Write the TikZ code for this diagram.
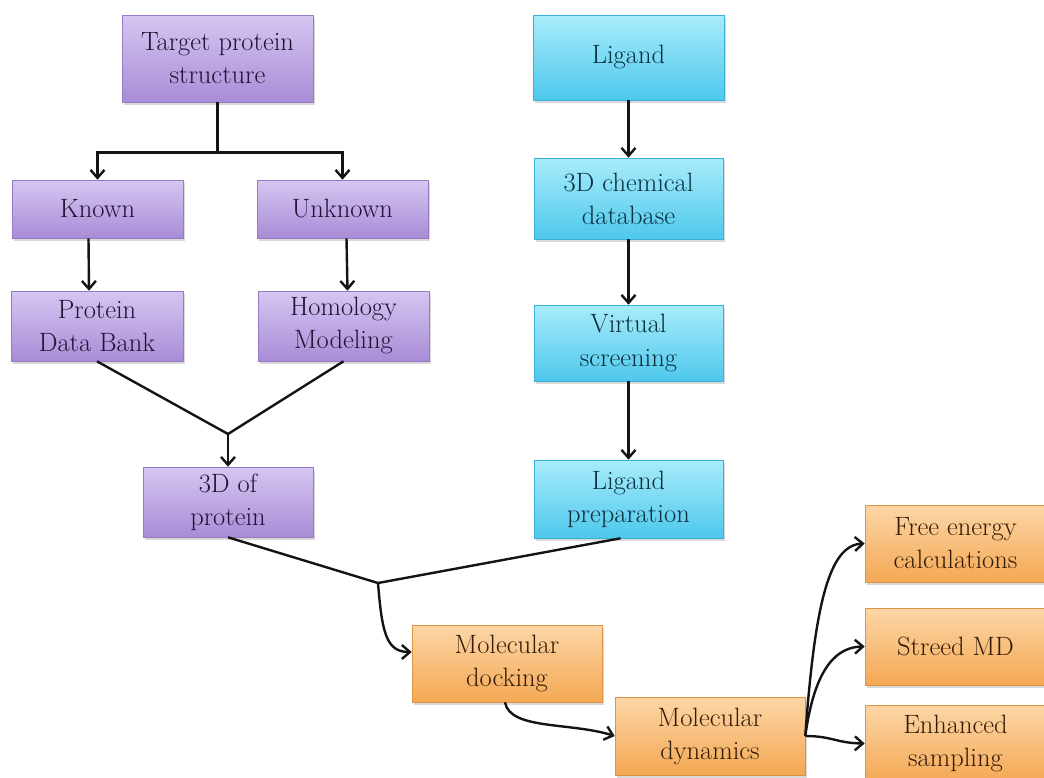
\documentclass[tikz,border=0pt]{standalone}
\usepackage{fontspec}
\usetikzlibrary{arrows.meta,shadows,calc}

\definecolor{pTop}{RGB}{214,198,242}
\definecolor{pBot}{RGB}{168,140,214}
\definecolor{pEdge}{RGB}{150,122,196}
\definecolor{pText}{RGB}{34,18,52}
\definecolor{cTop}{RGB}{168,236,251}
\definecolor{cBot}{RGB}{78,200,236}
\definecolor{cEdge}{RGB}{60,176,214}
\definecolor{cText}{RGB}{10,46,62}
\definecolor{oTop}{RGB}{252,214,166}
\definecolor{oBot}{RGB}{244,168,84}
\definecolor{oEdge}{RGB}{222,148,66}
\definecolor{oText}{RGB}{52,28,8}
\definecolor{lineC}{RGB}{20,20,20}

\begin{document}
\begin{tikzpicture}[x=1pt,y=-1pt,
  base/.style={rectangle, inner sep=0pt, align=center,
    font=\fontsize{26.5}{33}\selectfont\addfontfeature{FakeBold=0.9}, line width=0.6pt,
    drop shadow={shadow xshift=2pt,shadow yshift=-2.5pt,opacity=0.3}},
  purplebox/.style={base, top color=pTop, bottom color=pBot, draw=pEdge, text=pText},
  cyanbox/.style={base, top color=cTop, bottom color=cBot, draw=cEdge, text=cText},
  orangebox/.style={base, top color=oTop, bottom color=oBot, draw=oEdge, text=oText},
  link/.style={line width=2.4pt, draw=lineC},
  arr/.style={link, -{Straight Barb[length=8pt,width=14pt]}},
]
\useasboundingbox (0,0) rectangle (1044,777);

% protein branch
\node[purplebox, minimum width=191pt, minimum height=87pt] (tps) at (217.5,58.5) {Target protein\\structure};
\node[purplebox, minimum width=171pt, minimum height=58pt] (known) at (97.5,209) {Known};
\node[purplebox, minimum width=171pt, minimum height=58pt] (unknown) at (342.5,209) {Unknown};
\node[purplebox, minimum width=172pt, minimum height=70pt] (pdb) at (97,326) {Protein\\Data Bank};
\node[purplebox, minimum width=171pt, minimum height=70pt] (hm) at (343.5,326) {Homology\\Modeling};
\node[purplebox, minimum width=170pt, minimum height=70pt] (p3d) at (228,502) {3D of\\protein};

% ligand branch
\node[cyanbox, minimum width=191pt, minimum height=85pt] (lig) at (628.5,57.5) {Ligand};
\node[cyanbox, minimum width=189pt, minimum height=81pt] (chem) at (628.5,198.5) {3D chemical\\database};
\node[cyanbox, minimum width=189pt, minimum height=76pt] (vs) at (628.5,343) {Virtual\\screening};
\node[cyanbox, minimum width=189pt, minimum height=78pt] (lp) at (628.5,499) {Ligand\\preparation};

% simulation stages
\node[orangebox, minimum width=190pt, minimum height=77pt] (dock) at (507,663.5) {Molecular\\docking};
\node[orangebox, minimum width=190pt, minimum height=78pt] (md) at (710,736) {Molecular\\dynamics};
\node[orangebox, minimum width=181pt, minimum height=77pt] (fe) at (955.5,543.5) {Free energy\\calculations};
\node[orangebox, minimum width=181pt, minimum height=77pt] (smd) at (955.5,646.5) {Streed MD};
\node[orangebox, minimum width=181pt, minimum height=77pt] (es) at (955.5,743.5) {Enhanced\\sampling};

% junction points
\coordinate (j1) at (228,434);
\coordinate (j2) at (378,583);

% protein tree
\draw[arr] (tps.south) -- ++(0,50) -| (known.north);
\draw[arr] (tps.south) -- ++(0,50) -| (unknown.north);
\draw[arr] ($(known.south)+(-9,0)$) -- ($(pdb.north)+(-8,0)$);
\draw[arr] ($(unknown.south)+(4,0)$) -- ($(hm.north)+(4,0)$);
\draw[link] (pdb.south) -- (j1) -- (hm.south);
\draw[arr] (j1) -- (p3d.north);

% ligand chain
\draw[arr] (lig.south) -- (chem.north);
\draw[arr] (chem.south) -- (vs.north);
\draw[arr] (vs.south) -- (lp.north);

% merge into docking
\draw[link] (p3d.south) -- (j2) -- ($(lp.south)+(-8,0)$);
\draw[arr] (j2) .. controls (382,632) and (386,652) .. ($(dock.west)+(0,-11.5)$);

% docking to dynamics
\draw[arr] ($(dock.south)+(-2,0)$) .. controls (510,730) and (570,722) .. (md.west);

% dynamics outputs
\draw[arr] (md.east) .. controls (815,600) and (830,545) .. (fe.west);
\draw[arr] (md.east) .. controls (815,665) and (838,647) .. (smd.west);
\draw[arr] (md.east) .. controls (832,736) and (836,743) .. (es.west);
\end{tikzpicture}
\end{document}
